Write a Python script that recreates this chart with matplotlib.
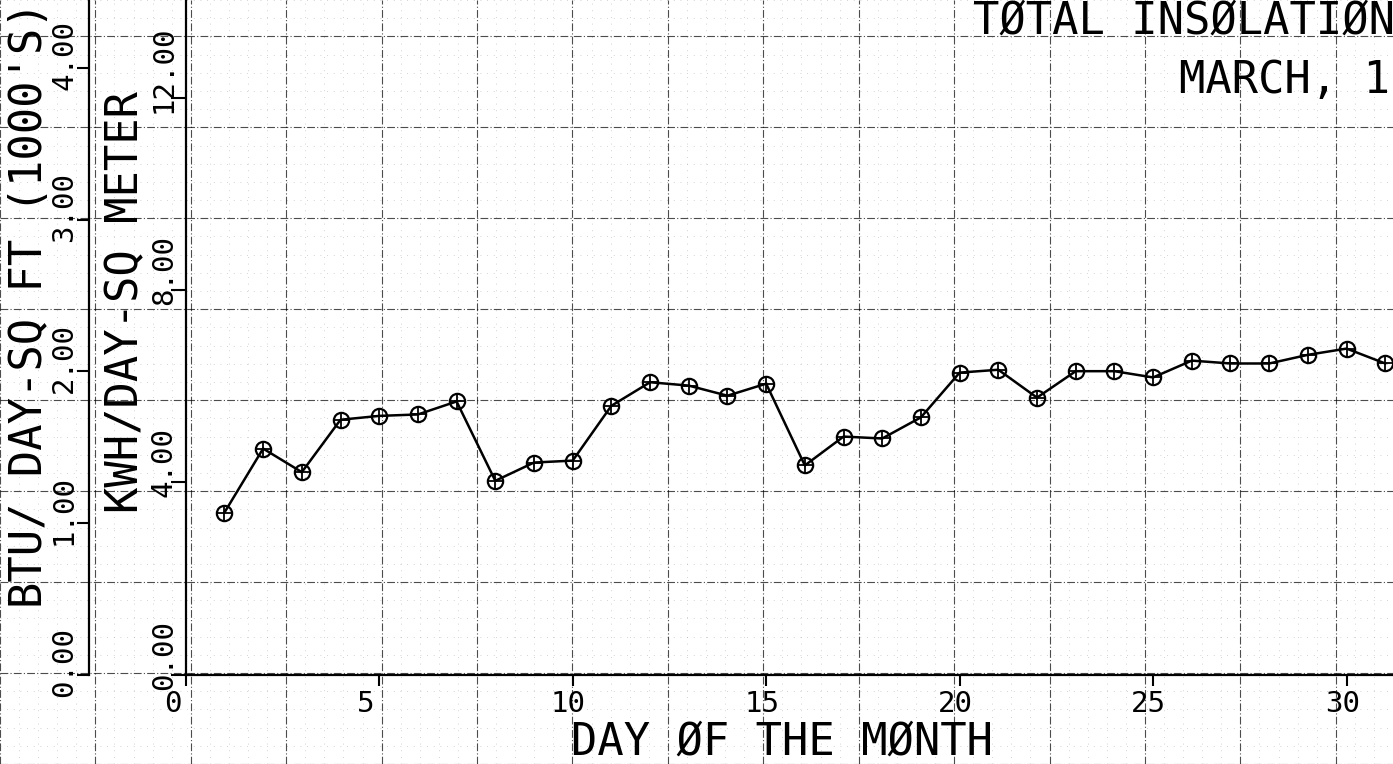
import numpy as np
import matplotlib.pyplot as plt
from matplotlib.transforms import ScaledTranslation

# daily total insolation, kWh per sq metre
days = np.arange(1, 32)
kwh = [3.37, 4.70, 4.21, 5.30, 5.38, 5.41, 5.68, 4.03, 4.41, 4.45,
       5.59, 6.08, 6.01, 5.80, 6.05, 4.35, 4.95, 4.91, 5.35, 6.28,
       6.34, 5.76, 6.31, 6.31, 6.18, 6.53, 6.47, 6.47, 6.65, 6.78, 6.47]

day_ticks = [0, 5, 10, 15, 20, 25, 30]
kwh_ticks = [0, 4, 8, 12]
kwh_labels = ["0.00", "4.00", "8.00", "12.00"]
btu_ticks = [0, 1, 2, 3, 4]
btu_labels = ["0.00", "1.00", "2.00", "3.00", "4.00"]

BTU_PER_KWH = 0.3171      # 1000 BTU/sq ft for 1 kWh/sq m
xlim = (-4.8, 31.2)
ylim = (-1.86, 14.03)

plt.rcParams['font.family'] = 'DejaVu Sans Mono'

fig = plt.figure(figsize=(13.93, 7.64), dpi=100)

# graph paper underneath
bg = fig.add_axes([0, 0, 1, 1], zorder=0)
bg.set_xlim(xlim)
bg.set_ylim(ylim)
bg.set_xticks(np.arange(-5, 32, 2.5))
bg.set_yticks(np.arange(-2, 15, 2))
bg.set_xticks(np.arange(-5, 32, 0.5), minor=True)
bg.set_yticks(np.arange(-2, 15, 0.4), minor=True)
bg.grid(which='major', color='k', lw=0.8, alpha=0.7, ls=(0, (7, 2, 1, 2)))
bg.grid(which='minor', color='0.55', lw=0.6, alpha=0.5, ls=(0, (1, 7)))
bg.tick_params(which='both', length=0, labelbottom=False, labelleft=False)
for s in bg.spines.values():
    s.set_visible(False)

ax = fig.add_axes([0, 0, 1, 1], zorder=1)
ax.patch.set_visible(False)
ax.set_xlim(xlim)
ax.set_ylim(ylim)

ax.plot(days, kwh, color='k', lw=1.8, marker='o', ms=11,
        mfc='none', mec='k', mew=1.6)
ax.plot(days, kwh, ls='none', marker='+', ms=11, mec='k', mew=1.3)

ax.spines[['top', 'right']].set_visible(False)
ax.spines['left'].set_position(('data', 0))
ax.spines['bottom'].set_position(('data', 0))
ax.spines['left'].set_bounds(0, ylim[1])
ax.spines['bottom'].set_bounds(0, xlim[1])
ax.spines[['left', 'bottom']].set_linewidth(1.6)

ax.set_xticks(day_ticks, [str(d) for d in day_ticks])
ax.set_yticks(kwh_ticks, kwh_labels)
ax.tick_params(axis='x', direction='out', length=8, width=1.5, pad=3,
               labelsize=21)
ax.tick_params(axis='y', direction='out', length=10.8, width=1.5, pad=-5,
               labelsize=21, labelrotation=90)

# second scale in BTU
loc = (-2.5 - xlim[0]) / (xlim[1] - xlim[0])
sec = ax.secondary_yaxis(loc, functions=(lambda v: v * BTU_PER_KWH,
                                         lambda v: v / BTU_PER_KWH))
sec.set_ticks(btu_ticks, btu_labels)
sec.spines['left'].set_bounds(0, 4.5)
sec.spines['left'].set_linewidth(1.6)
sec.tick_params(axis='y', direction='out', length=8.6, width=1.5, pad=-0.7,
                labelsize=21, labelrotation=90)

# plotter style label placement: labels start a little before the tick
shift_x = ScaledTranslation(-0.22, 0, fig.dpi_scale_trans)
for lab in ax.get_xticklabels():
    lab.set_ha('left')
    lab.set_transform(lab.get_transform() + shift_x)


def start_below_tick(labels, inches):
    shift = ScaledTranslation(0, -inches, fig.dpi_scale_trans)
    for lab in labels:
        lab.set_ha('right')
        lab.set_va('bottom')
        lab.set_rotation_mode('default')
        lab.set_transform(lab.get_transform() + shift)


start_below_tick(ax.get_yticklabels(), 0.15)
start_below_tick(sec.get_yticklabels(), 0.22)

ax.set_xlabel("DAY ØF THE MØNTH", fontsize=31.5, va='bottom')
ax.xaxis.set_label_coords(0.5614, 0.0008, transform=fig.transFigure)
ax.set_ylabel("KWH/DAY-SQ METER", fontsize=31.5, va='center')
ax.yaxis.set_label_coords(0.0901, 0.6047, transform=fig.transFigure)
sec.set_ylabel("BTU/ DAY-SQ FT (1000'S)", fontsize=31.5, va='center')
sec.yaxis.set_label_coords(0.0215, 0.6008, transform=fig.transFigure)

fig.text(0.6985, 0.9555, "TØTAL INSØLATIØN", fontsize=31.5,
         ha='left', va='baseline')
fig.text(0.8465, 0.8783, "MARCH, 1", fontsize=31.5, ha='left', va='baseline')

fig.savefig("out.png", dpi=100)
